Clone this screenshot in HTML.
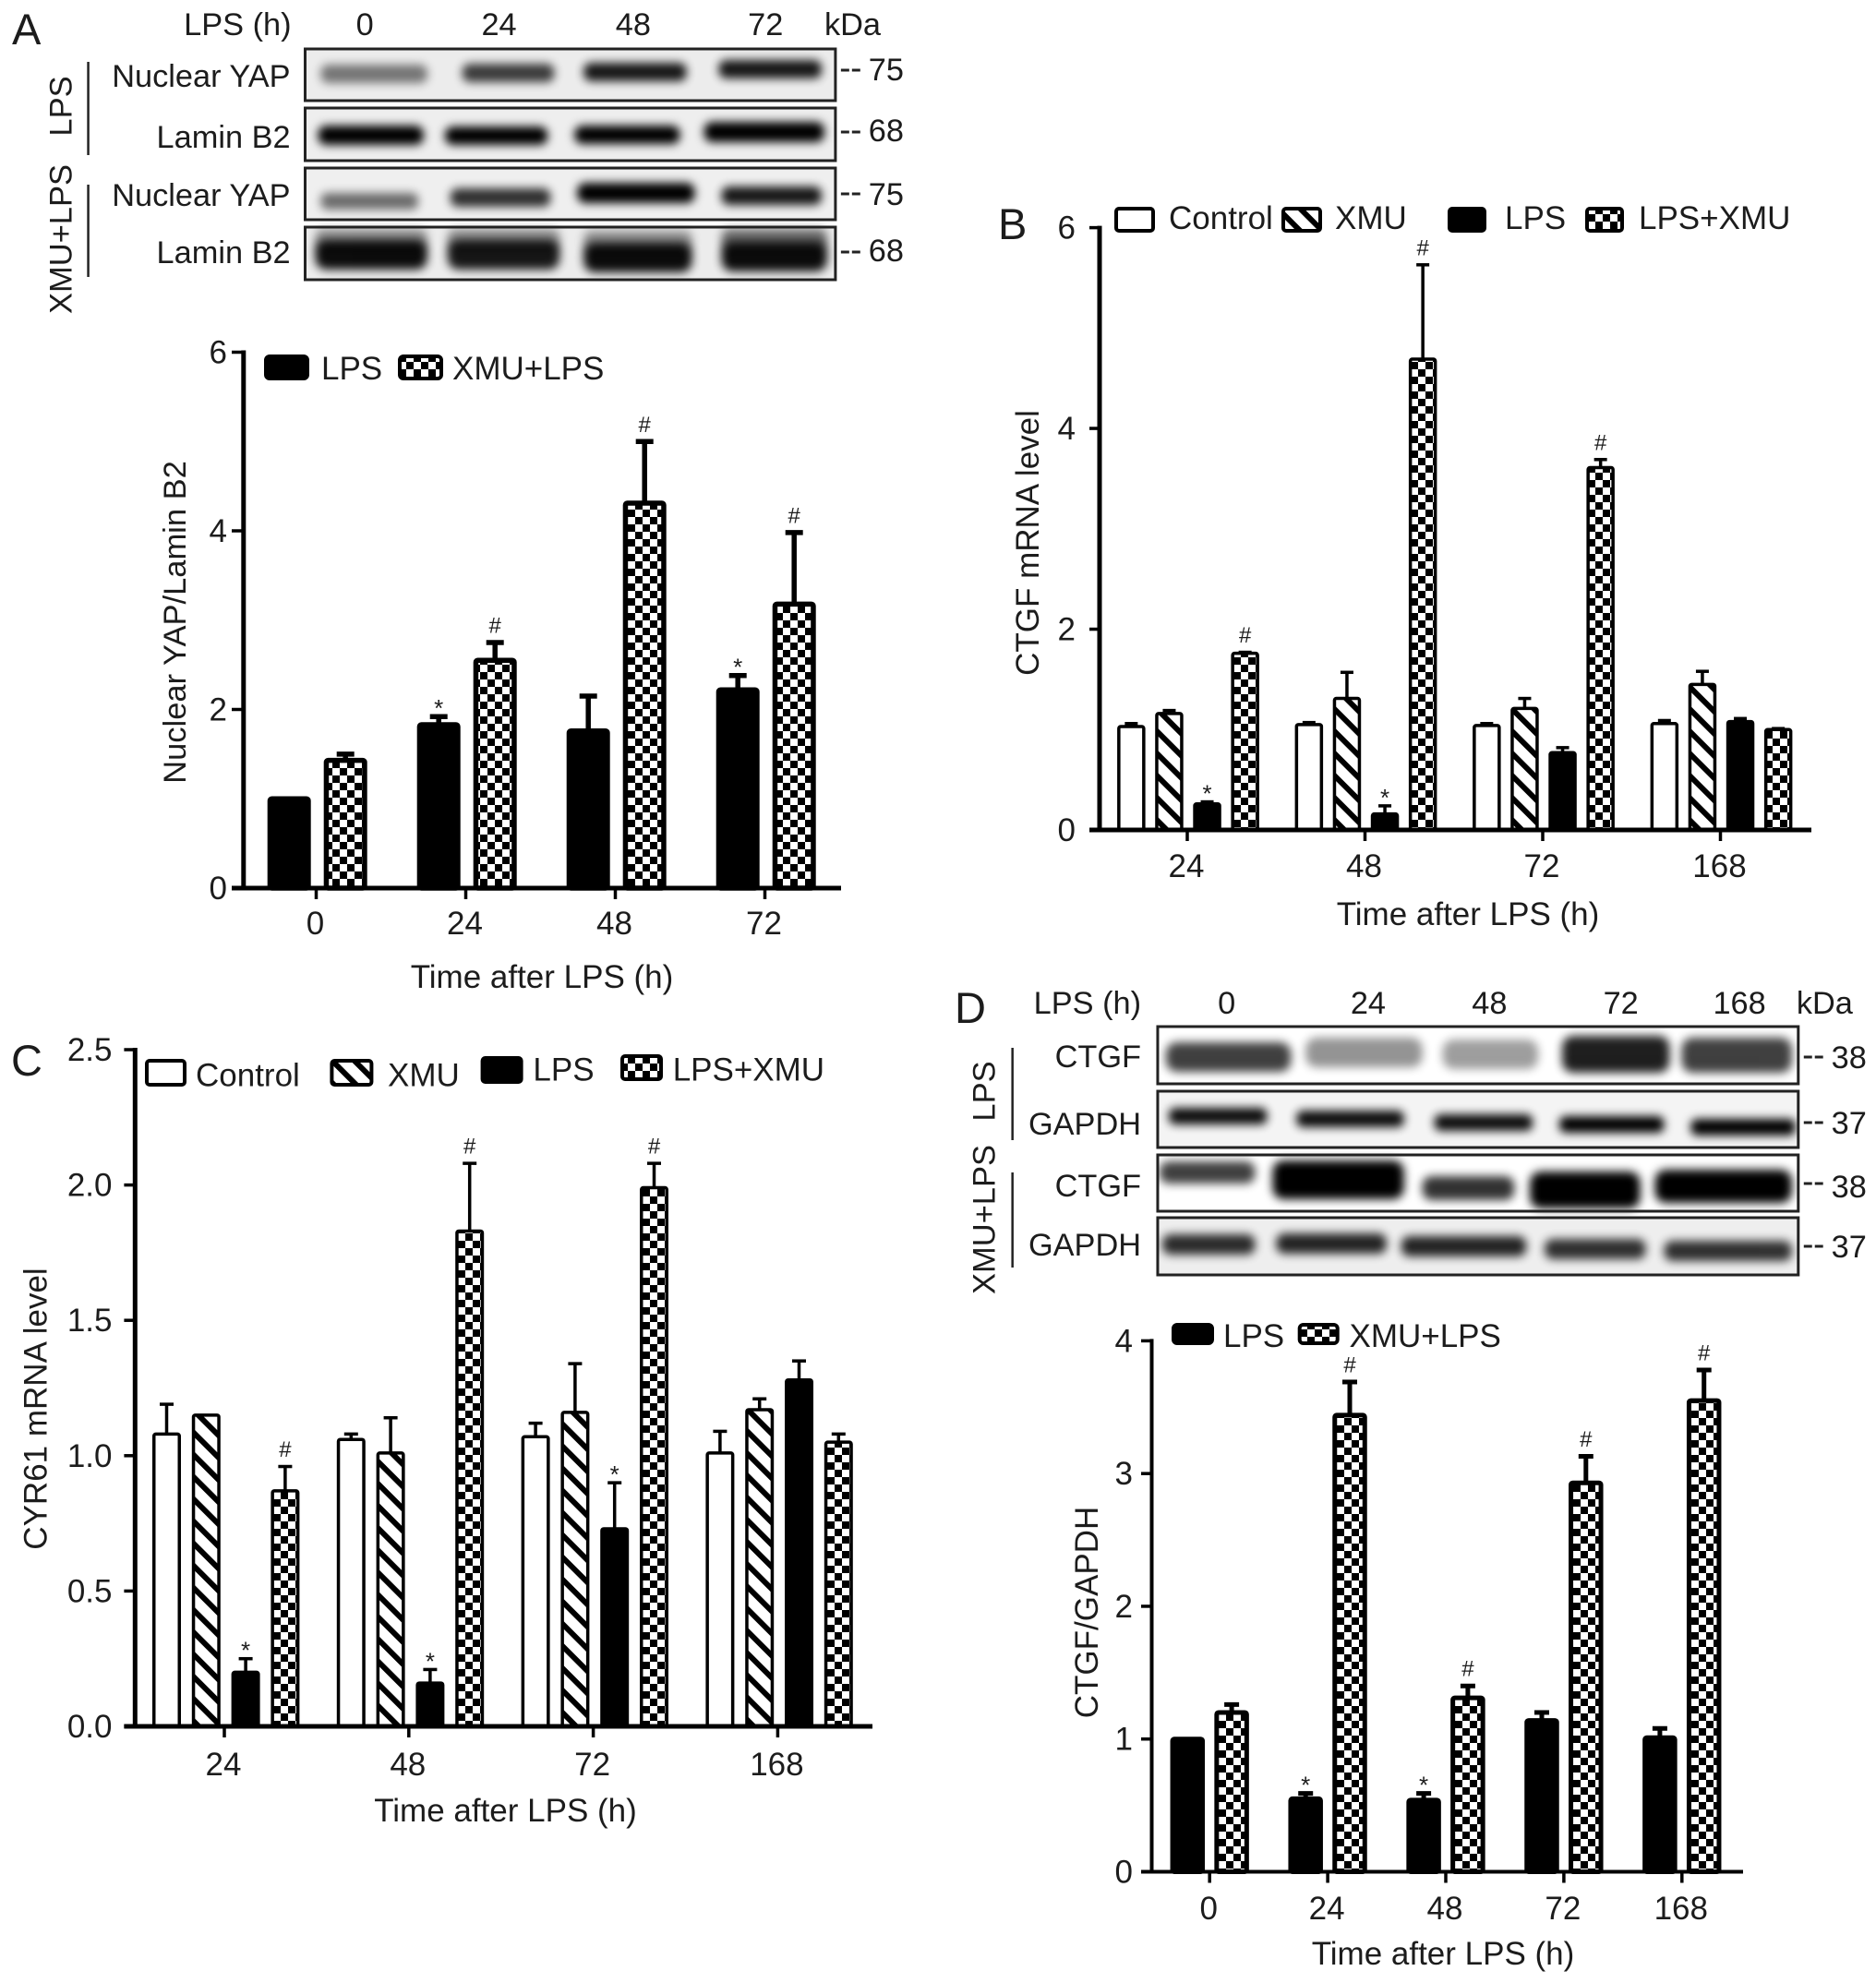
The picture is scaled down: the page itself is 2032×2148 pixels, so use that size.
<!DOCTYPE html>
<html lang="en">
<head>
<meta charset="utf-8">
<title>Nuclear YAP, CTGF and CYR61 after LPS</title>
<style>
html,body{margin:0;padding:0;background:#fff;}
svg{display:block;font-family:"Liberation Sans",Arial,sans-serif;fill:#1c1c1c;}
.t{font-size:35px;}
.b{font-size:34.5px;}
.p{font-size:47px;}
.band{fill:#000;filter:url(#blur);}
.frame{fill:none;stroke:#222;stroke-width:3;}
</style>
</head>
<body>
<svg id="figure" width="2032" height="2148" viewBox="0 0 2032 2148" xmlns="http://www.w3.org/2000/svg">
<defs>
<filter id="blur" x="-30%" y="-100%" width="160%" height="300%"><feGaussianBlur stdDeviation="5"/></filter>
<pattern id="checker" patternUnits="userSpaceOnUse" width="16" height="16">
<rect width="16" height="16" fill="#fff"/>
<rect width="8" height="8" fill="#000"/>
<rect x="8" y="8" width="8" height="8" fill="#000"/>
</pattern>
<pattern id="hatch" patternUnits="userSpaceOnUse" width="17" height="17" patternTransform="rotate(-45)">
<rect width="17" height="17" fill="#fff"/>
<rect width="6" height="17" fill="#000"/>
</pattern>
<clipPath id="clipA"><rect x="332" y="50" width="577" height="256"/></clipPath>
<clipPath id="clipD"><rect x="1255" y="1110" width="697" height="273"/></clipPath>
</defs>
<rect width="2032" height="2148" fill="#fff"/>

<!-- Panel letters -->
<text class="p" x="13" y="48">A</text>
<text class="p" x="1081" y="259">B</text>
<text class="p" x="12" y="1165">C</text>
<text class="p" x="1034" y="1108">D</text>

<!-- Panel A blot -->
<g transform="scale(.9955 1)">
<g class="b">
<text x="317" y="38" text-anchor="end">LPS (h)</text>
<text x="397" y="38" text-anchor="middle">0</text>
<text x="543" y="38" text-anchor="middle">24</text>
<text x="689" y="38" text-anchor="middle">48</text>
<text x="833" y="38" text-anchor="middle">72</text>
<text x="897" y="38">kDa</text>
</g>
<g clip-path="url(#clipA)">
<rect x="332" y="53" width="577" height="56" fill="#ececec"/>
<rect x="332" y="117" width="577" height="57" fill="#eeeeee"/>
<rect x="332" y="182" width="577" height="56" fill="#efefef"/>
<rect x="332" y="246" width="577" height="57" fill="#ececec"/>
<rect class="band" x="349" y="70" width="116" height="20" rx="8" opacity=".5"/>
<rect class="band" x="503" y="69" width="100" height="20" rx="8" opacity=".75"/>
<rect class="band" x="635" y="68" width="112" height="20" rx="8" opacity=".9"/>
<rect class="band" x="782" y="65" width="112" height="20" rx="8" opacity=".9"/>
<rect class="band" x="346" y="136" width="115" height="21" rx="9"/>
<rect class="band" x="484" y="137" width="112" height="20" rx="9"/>
<rect class="band" x="625" y="136" width="115" height="20" rx="9"/>
<rect class="band" x="766" y="132" width="131" height="22" rx="9"/>
<rect class="band" x="349" y="209" width="106" height="18" rx="7" opacity=".55"/>
<rect class="band" x="490" y="204" width="109" height="20" rx="8" opacity=".8"/>
<rect class="band" x="628" y="198" width="128" height="22" rx="9"/>
<rect class="band" x="785" y="202" width="109" height="20" rx="8" opacity=".9"/>
<rect class="band" x="343" y="248" width="122" height="24" rx="8" opacity=".4"/>
<rect class="band" x="487" y="248" width="122" height="24" rx="8" opacity=".4"/>
<rect class="band" x="635" y="250" width="118" height="24" rx="8" opacity=".4"/>
<rect class="band" x="785" y="248" width="115" height="24" rx="8" opacity=".55"/>
<rect class="band" x="343" y="260" width="122" height="32" rx="12" opacity=".95"/>
<rect class="band" x="487" y="260" width="122" height="32" rx="12" opacity=".9"/>
<rect class="band" x="635" y="263" width="118" height="32" rx="12" opacity=".95"/>
<rect class="band" x="785" y="262" width="115" height="32" rx="12" opacity=".95"/>
</g>
<rect class="frame" x="332" y="53" width="577" height="56"/>
<rect class="frame" x="332" y="117" width="577" height="57"/>
<rect class="frame" x="332" y="182" width="577" height="56"/>
<rect class="frame" x="332" y="246" width="577" height="57"/>
<g class="b" text-anchor="end">
<text x="316" y="94">Nuclear YAP</text>
<text x="316" y="160">Lamin B2</text>
<text x="316" y="223">Nuclear YAP</text>
<text x="316" y="285">Lamin B2</text>
</g>
<g class="b">
<text x="945" y="87">75</text>
<text x="945" y="153">68</text>
<text x="945" y="222">75</text>
<text x="945" y="283">68</text>
</g>
<g stroke="#222" stroke-width="3" stroke-dasharray="9 3">
<line x1="915" x2="936" y1="76" y2="76"/>
<line x1="915" x2="936" y1="143" y2="143"/>
<line x1="915" x2="936" y1="210" y2="210"/>
<line x1="915" x2="936" y1="273" y2="273"/>
</g>
<text class="b" transform="translate(78 115) rotate(-90)" text-anchor="middle">LPS</text>
<text class="b" transform="translate(78 259) rotate(-90)" text-anchor="middle">XMU+LPS</text>
<line x1="96" x2="96" y1="67" y2="168" stroke="#222" stroke-width="2.5"/>
<line x1="96" x2="96" y1="200" y2="300" stroke="#222" stroke-width="2.5"/>
</g>

<!-- Panel D blot -->
<g transform="translate(4.6 0) scale(.9955 1)">
<g class="b">
<text x="1237" y="1098" text-anchor="end">LPS (h)</text>
<text x="1330" y="1098" text-anchor="middle">0</text>
<text x="1484" y="1098" text-anchor="middle">24</text>
<text x="1616" y="1098" text-anchor="middle">48</text>
<text x="1759" y="1098" text-anchor="middle">72</text>
<text x="1888" y="1098" text-anchor="middle">168</text>
<text x="1950" y="1098">kDa</text>
</g>
<g clip-path="url(#clipD)">
<rect x="1255" y="1182" width="697" height="61" fill="#f4f4f4"/>
<rect x="1255" y="1319" width="697" height="62" fill="#eeeeee"/>
<rect class="band" x="1264" y="1129" width="136" height="32" rx="12" opacity=".75"/>
<rect class="band" x="1416" y="1124" width="127" height="32" rx="12" opacity=".42"/>
<rect class="band" x="1565" y="1126" width="104" height="32" rx="12" opacity=".38"/>
<rect class="band" x="1695" y="1122" width="117" height="40" rx="12" opacity=".88"/>
<rect class="band" x="1825" y="1124" width="120" height="38" rx="12" opacity=".75"/>
<rect class="band" x="1267" y="1200" width="107" height="18" rx="7" opacity=".95"/>
<rect class="band" x="1406" y="1203" width="117" height="18" rx="7" opacity=".95"/>
<rect class="band" x="1556" y="1207" width="107" height="18" rx="7" opacity=".95"/>
<rect class="band" x="1692" y="1209" width="114" height="18" rx="7"/>
<rect class="band" x="1835" y="1212" width="114" height="18" rx="7"/>
<rect class="band" x="1257" y="1258" width="104" height="24" rx="10" opacity=".75"/>
<rect class="band" x="1380" y="1257" width="143" height="42" rx="12"/>
<rect class="band" x="1543" y="1274" width="100" height="26" rx="10" opacity=".8"/>
<rect class="band" x="1660" y="1269" width="120" height="40" rx="12"/>
<rect class="band" x="1796" y="1267" width="149" height="36" rx="12"/>
<rect class="band" x="1260" y="1337" width="101" height="22" rx="9" opacity=".82"/>
<rect class="band" x="1384" y="1336" width="120" height="22" rx="9" opacity=".85"/>
<rect class="band" x="1520" y="1339" width="136" height="22" rx="9" opacity=".85"/>
<rect class="band" x="1676" y="1342" width="110" height="22" rx="9" opacity=".8"/>
<rect class="band" x="1806" y="1344" width="139" height="22" rx="9" opacity=".8"/>
</g>
<rect class="frame" x="1255" y="1112" width="697" height="62"/>
<rect class="frame" x="1255" y="1182" width="697" height="61"/>
<rect class="frame" x="1255" y="1251" width="697" height="61"/>
<rect class="frame" x="1255" y="1319" width="697" height="62"/>
<g class="b" text-anchor="end">
<text x="1237" y="1156">CTGF</text>
<text x="1237" y="1229">GAPDH</text>
<text x="1237" y="1296">CTGF</text>
<text x="1237" y="1360">GAPDH</text>
</g>
<g class="b">
<text x="1988" y="1157">38</text>
<text x="1988" y="1228">37</text>
<text x="1988" y="1297">38</text>
<text x="1988" y="1362">37</text>
</g>
<g stroke="#222" stroke-width="3" stroke-dasharray="9 3">
<line x1="1958" x2="1980" y1="1145" y2="1145"/>
<line x1="1958" x2="1980" y1="1216" y2="1216"/>
<line x1="1958" x2="1980" y1="1282" y2="1282"/>
<line x1="1958" x2="1980" y1="1350" y2="1350"/>
</g>
<text class="b" transform="translate(1078 1182) rotate(-90)" text-anchor="middle">LPS</text>
<text class="b" transform="translate(1078 1321) rotate(-90)" text-anchor="middle">XMU+LPS</text>
<line x1="1097" x2="1097" y1="1135" y2="1235" stroke="#222" stroke-width="2.5"/>
<line x1="1097" x2="1097" y1="1270" y2="1373" stroke="#222" stroke-width="2.5"/>
</g>

<!-- Axis titles -->
<g class="t">
<text x="587" y="1070" text-anchor="middle">Time after LPS (h)</text>
<text transform="translate(201 674) rotate(-90)" text-anchor="middle" style="font-size:34.5px">Nuclear YAP/Lamin B2</text>
<text x="1590" y="1002" text-anchor="middle">Time after LPS (h)</text>
<text transform="translate(1125 588) rotate(-90)" text-anchor="middle">CTGF mRNA level</text>
<text x="547.5" y="1973" text-anchor="middle">Time after LPS (h)</text>
<text transform="translate(50.5 1526) rotate(-90)" text-anchor="middle">CYR61 mRNA level</text>
<text x="1563" y="2128" text-anchor="middle">Time after LPS (h)</text>
<text transform="translate(1189 1746.5) rotate(-90)" text-anchor="middle">CTGF/GAPDH</text>
</g>

<!-- Legends -->
<g stroke="#000" stroke-width="4">
<rect x="288" y="386" width="45" height="24" rx="4" fill="#000"/>
<rect x="433" y="386" width="45" height="24" rx="4" fill="url(#checker)"/>
<rect x="1209" y="226" width="40" height="24" rx="3" fill="#fff"/>
<rect x="1390" y="226" width="40" height="24" rx="3" fill="url(#hatch)"/>
<rect x="1570" y="226" width="38" height="24" rx="3" fill="#000"/>
<rect x="1719" y="226" width="38" height="24" rx="3" fill="url(#checker)"/>
<rect x="159" y="1149" width="41" height="26" rx="3" fill="#fff"/>
<rect x="359.4" y="1149" width="43" height="26" rx="3" fill="url(#hatch)"/>
<rect x="522.6" y="1146" width="42" height="26" rx="3" fill="#000"/>
<rect x="674" y="1144" width="42" height="25" rx="3" fill="url(#checker)"/>
<rect x="1271" y="1435" width="42" height="20" rx="4" fill="#000"/>
<rect x="1407.7" y="1435" width="41" height="20" rx="4" fill="url(#checker)"/>
</g>
<g class="t">
<text x="348" y="411">LPS</text>
<text x="490" y="411">XMU+LPS</text>
<text x="1266" y="248">Control</text>
<text x="1446" y="248">XMU</text>
<text x="1630" y="248">LPS</text>
<text x="1775" y="248">LPS+XMU</text>
<text x="212" y="1176.5">Control</text>
<text x="420" y="1176.5">XMU</text>
<text x="577.4" y="1170.5">LPS</text>
<text x="728.7" y="1170.5">LPS+XMU</text>
<text x="1325" y="1459">LPS</text>
<text x="1461.5" y="1459">XMU+LPS</text>
</g>

<g id="chart-a"></g>
<g id="chart-b"></g>
<g id="chart-c"></g>
<g id="chart-d"></g>
</svg>

<script>
// Panel A data
const aCategories = ['0', '24', '48', '72'];
const aTickValues = [0, 2, 4, 6];
const aTickLabels = ['0', '2', '4', '6'];
const aLpsValues = [1.0, 1.83, 1.76, 2.22];
const aLpsUpper = [1.0, 1.92, 2.15, 2.38];
const aLpsMarks = ['', '*', '', '*'];
const aXmuValues = [1.43, 2.55, 4.31, 3.18];
const aXmuUpper = [1.5, 2.75, 5.0, 3.98];
const aXmuMarks = ['', '#', '#', '#'];

// Panel B data
const bCategories = ['24', '48', '72', '168'];
const bTickValues = [0, 2, 4, 6];
const bTickLabels = ['0', '2', '4', '6'];
const bControlValues = [1.03, 1.05, 1.04, 1.06];
const bControlUpper = [1.06, 1.07, 1.06, 1.09];
const bXmuValues = [1.16, 1.31, 1.21, 1.45];
const bXmuUpper = [1.19, 1.57, 1.31, 1.58];
const bLpsValues = [0.26, 0.16, 0.77, 1.08];
const bLpsUpper = [0.28, 0.24, 0.82, 1.11];
const bLpsMarks = ['*', '*', '', ''];
const bComboValues = [1.76, 4.69, 3.61, 1.0];
const bComboUpper = [1.77, 5.63, 3.69, 1.01];
const bComboMarks = ['#', '#', '#', ''];

// Panel C data
const cCategories = ['24', '48', '72', '168'];
const cTickValues = [0, 0.5, 1, 1.5, 2, 2.5];
const cTickLabels = ['0.0', '0.5', '1.0', '1.5', '2.0', '2.5'];
const cControlValues = [1.08, 1.06, 1.07, 1.01];
const cControlUpper = [1.19, 1.08, 1.12, 1.09];
const cXmuValues = [1.15, 1.01, 1.16, 1.17];
const cXmuUpper = [1.15, 1.14, 1.34, 1.21];
const cLpsValues = [0.2, 0.16, 0.73, 1.28];
const cLpsUpper = [0.25, 0.21, 0.9, 1.35];
const cLpsMarks = ['*', '*', '*', ''];
const cComboValues = [0.87, 1.83, 1.99, 1.05];
const cComboUpper = [0.96, 2.08, 2.08, 1.08];
const cComboMarks = ['#', '#', '#', ''];

// Panel D data
const dCategories = ['0', '24', '48', '72', '168'];
const dTickValues = [0, 1, 2, 3, 4];
const dTickLabels = ['0', '1', '2', '3', '4'];
const dLpsValues = [1.0, 0.55, 0.54, 1.14, 1.01];
const dLpsUpper = [1.0, 0.59, 0.59, 1.2, 1.08];
const dLpsMarks = ['', '*', '*', '', ''];
const dXmuValues = [1.2, 3.44, 1.31, 2.93, 3.55];
const dXmuUpper = [1.26, 3.69, 1.4, 3.13, 3.78];
const dXmuMarks = ['', '#', '#', '#', '#'];

const NS = 'http://www.w3.org/2000/svg';
const noMarks = [];

function make(tag, parent, attrs, text) {
  const el = document.createElementNS(NS, tag);
  for (const key in attrs) el.setAttribute(key, attrs[key]);
  if (text !== undefined) el.textContent = text;
  parent.appendChild(el);
  return el;
}

function drawChart(id, layout, categories, tickValues, tickLabels, seriesList) {
  const root = document.getElementById(id);
  const yScale = function (v) {
    return layout.yBase - (v / layout.yMax) * (layout.yBase - layout.yTop);
  };
  const xScale = function (i) {
    return layout.firstX + i * layout.stepX;
  };
  const n = seriesList.length;

  seriesList.forEach(function (series, s) {
    categories.forEach(function (cat, i) {
      const cx = xScale(i) + (s - (n - 1) / 2) * layout.barStep;
      const top = yScale(series.values[i]);
      const upper = yScale(series.upper[i]);
      if (series.upper[i] > series.values[i]) {
        const stem = make('line', root, { x1: cx, x2: cx, y1: top, y2: upper, stroke: '#000', 'stroke-width': layout.errW });
        
        
        const cap = make('line', root, { x1: cx - layout.capW / 2, x2: cx + layout.capW / 2, y1: upper, y2: upper, stroke: '#000', 'stroke-width': layout.errW });
        
        
      }
      const bar = make('rect', root, {
        x: cx - layout.barW / 2 + layout.barStroke / 2,
        y: top,
        width: layout.barW - layout.barStroke,
        height: Math.max(0, layout.yBase - top),
        rx: 2,
        fill: series.fill,
        stroke: '#000',
        'stroke-width': layout.barStroke
      });
      
      
      const mark = series.marks[i];
      if (mark) {
        const isHash = mark === '#';
        const sig = make('text', root, { x: cx, y: upper - (isHash ? 10.5 : 0), 'text-anchor': 'middle', 'font-size': isHash ? 24 : 26 }, mark);
        
        
      }
    });
  });

  const xAxis = make('line', root, { x1: layout.tickLeft, x2: layout.xEnd, y1: layout.yBase, y2: layout.yBase, stroke: '#000', 'stroke-width': layout.axisW });
  
  
  const yAxis = make('line', root, { x1: layout.axisX, x2: layout.axisX, y1: layout.yTop - 2, y2: layout.yBase + 2, stroke: '#000', 'stroke-width': layout.axisW });
  
  

  tickValues.forEach(function (v, i) {
    const y = yScale(v);
    const tick = make('line', root, { x1: layout.tickLeft, x2: layout.axisX, y1: y, y2: y, stroke: '#000', 'stroke-width': 3.5 });
    
    
    const label = make('text', root, { x: layout.labelRight, y: y + 12, 'text-anchor': 'end', 'font-size': 35 }, tickLabels[i]);
    
    
  });

  categories.forEach(function (cat, i) {
    const x = xScale(i) + layout.tickDx;
    const tick = make('line', root, { x1: x, x2: x, y1: layout.yBase, y2: layout.yBase + 12, stroke: '#000', 'stroke-width': 3.5 });
    
    
    const label = make('text', root, { x: x - 1, y: layout.xLabelY, 'text-anchor': 'middle', 'font-size': 35 }, cat);
    
    
  });
}

drawChart('chart-a',
  { axisX: 263.8, yTop: 381.5, yBase: 962, yMax: 6, firstX: 343.7, stepX: 162, tickDx: -1.2, xEnd: 911, tickLeft: 251, labelRight: 246, xLabelY: 1012, barW: 47, barStep: 61, barStroke: 5.5, errW: 5.5, capW: 19, axisW: 5 },
  aCategories, aTickValues, aTickLabels,
  [
    { key: 'lps', fill: '#000', values: aLpsValues, upper: aLpsUpper, marks: aLpsMarks },
    { key: 'xmu-lps', fill: 'url(#checker)', values: aXmuValues, upper: aXmuUpper, marks: aXmuMarks }
  ]);

drawChart('chart-b',
  { axisX: 1191, yTop: 246.6, yBase: 899, yMax: 6, firstX: 1287, stepX: 192.5, tickDx: -1, xEnd: 1962, tickLeft: 1180, labelRight: 1165, xLabelY: 950, barW: 30.5, barStep: 41.1, barStroke: 3.5, errW: 3.5, capW: 14, axisW: 5 },
  bCategories, bTickValues, bTickLabels,
  [
    { key: 'control', fill: '#fff', values: bControlValues, upper: bControlUpper, marks: noMarks },
    { key: 'xmu', fill: 'url(#hatch)', values: bXmuValues, upper: bXmuUpper, marks: noMarks },
    { key: 'lps', fill: '#000', values: bLpsValues, upper: bLpsUpper, marks: bLpsMarks },
    { key: 'lps-xmu', fill: 'url(#checker)', values: bComboValues, upper: bComboUpper, marks: bComboMarks }
  ]);

drawChart('chart-c',
  { axisX: 146.3, yTop: 1137, yBase: 1870, yMax: 2.5, firstX: 244.7, stepX: 199.8, tickDx: -1.7, xEnd: 945, tickLeft: 134.4, labelRight: 121.5, xLabelY: 1923, barW: 31, barStep: 42.8, barStroke: 3.5, errW: 3.5, capW: 15, axisW: 5 },
  cCategories, cTickValues, cTickLabels,
  [
    { key: 'control', fill: '#fff', values: cControlValues, upper: cControlUpper, marks: noMarks },
    { key: 'xmu', fill: 'url(#hatch)', values: cXmuValues, upper: cXmuUpper, marks: noMarks },
    { key: 'lps', fill: '#000', values: cLpsValues, upper: cLpsUpper, marks: cLpsMarks },
    { key: 'lps-xmu', fill: 'url(#checker)', values: cComboValues, upper: cComboUpper, marks: cComboMarks }
  ]);

drawChart('chart-d',
  { axisX: 1247.5, yTop: 1452.4, yBase: 2027.5, yMax: 4, firstX: 1310.2, stepX: 127.9, tickDx: 0, xEnd: 1888, tickLeft: 1236, labelRight: 1227, xLabelY: 2079, barW: 37.5, barStep: 47.8, barStroke: 5, errW: 5, capW: 16, axisW: 4 },
  dCategories, dTickValues, dTickLabels,
  [
    { key: 'lps', fill: '#000', values: dLpsValues, upper: dLpsUpper, marks: dLpsMarks },
    { key: 'xmu-lps', fill: 'url(#checker)', values: dXmuValues, upper: dXmuUpper, marks: dXmuMarks }
  ]);
</script>
</body>
</html>
